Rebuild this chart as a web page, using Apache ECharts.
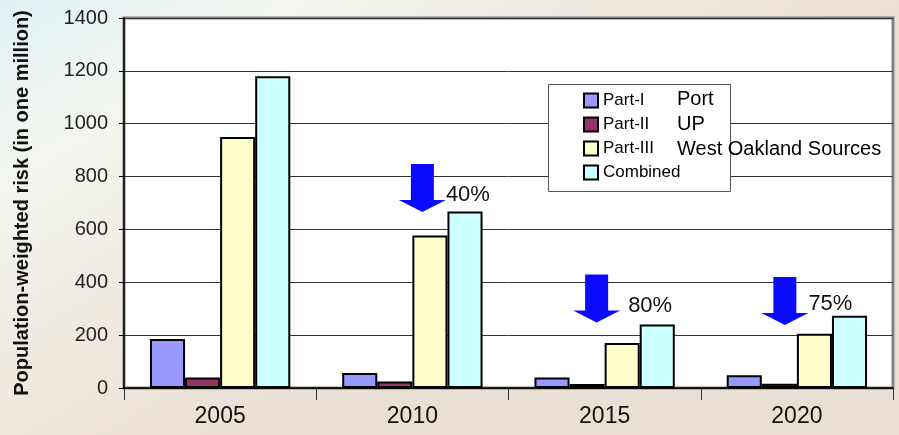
<!DOCTYPE html>
<html>
<head>
<meta charset="utf-8">
<script src="https://cdn.jsdelivr.net/npm/echarts@6/dist/echarts.min.js"></script>
<style>
  html, body { margin: 0; padding: 0; }
  #chart { width: 899px; height: 435px; }
</style>
</head>
<body>
<div id="chart"></div>
<script>
// categories + values
var years = ["2005", "2010", "2015", "2020"];
var partI = [185, 57, 40, 48];
var partII = [40, 25, 15, 16];
var partIII = [950, 577, 170, 205];
var combined = [1180, 668, 240, 273];

// reduction arrows
var arrowYears = ["2010", "2015", "2020"];
var arrowValues = [757, 339, 329];
var arrowLabels = ["40%", "80%", "75%"];

var seriesNames = ["Part-I", "Part-II", "Part-III", "Combined"];
var seriesNotes = ["Port", "UP", "West Oakland Sources"];
var yTicks = [0, 200, 400, 600, 800, 1000, 1200, 1400];

var font = "Liberation Sans, Arial, sans-serif";
var arrowPath = "path://M12,0 L35,0 L35,36 L47,36 L23.5,48 L0,36 L12,36 Z";
// pixel nudges of the arrows / labels relative to category centre
var arrowShift = [[10, 0], [-8, 0], [-12, 0]];
var labelShift = [[0, 7], [8, 8], [0, 3]];

var chart = echarts.init(document.getElementById("chart"));

function barSeries(name, data, color) {
  return {
    name: name,
    type: "bar",
    data: data,
    barGap: "0%",
    barCategoryGap: "27%",
    itemStyle: { color: color, borderColor: "#000", borderWidth: 2 }
  };
}

var arrowData = arrowYears.map(function (y, i) {
  return {
    value: [y, arrowValues[i]],
    symbolOffset: arrowShift[i],
    label: {
      show: true,
      position: "right",
      distance: 0,
      offset: labelShift[i],
      formatter: arrowLabels[i]
    }
  };
});

var noteTexts = seriesNotes.map(function (t, i) {
  return {
    type: "text",
    left: 677,
    top: 89 + i * 25,
    z: 30,
    style: { text: t, font: "20px " + font, fill: "#000" }
  };
});

var option = {
  backgroundColor: {
    type: "linear", x: 0, y: 0, x2: 0.3, y2: 1,
    colorStops: [
      { offset: 0, color: "#e2f1f6" },
      { offset: 0.3, color: "#f3f6ef" },
      { offset: 0.75, color: "#eee5db" },
      { offset: 1, color: "#eadfd4" }
    ]
  },
  animation: false,
  textStyle: { fontFamily: font },
  grid: {
    left: 124, right: 6, top: 18, bottom: 47,
    show: true,
    backgroundColor: "#fff",
    borderColor: "#808080",
    borderWidth: 3
  },
  legend: {
    data: seriesNames,
    orient: "vertical",
    left: 583,
    top: 92,
    padding: 0,
    z: 20,
    icon: "rect",
    itemWidth: 14,
    itemHeight: 14,
    itemGap: 7,
    textStyle: { fontSize: 17, color: "#000", fontFamily: font }
  },
  graphic: [
    {
      type: "rect",
      left: 548,
      top: 84,
      z: 10,
      shape: { width: 182, height: 107 },
      style: { fill: "#fff", stroke: "#555", lineWidth: 1 }
    }
  ].concat(noteTexts),
  xAxis: {
    type: "category",
    data: years,
    axisLine: { lineStyle: { color: "#000", width: 1.5 } },
    axisTick: { show: true, length: 12, interval: 0, lineStyle: { color: "#333" } },
    axisLabel: { fontSize: 23, color: "#111", margin: 17 }
  },
  yAxis: {
    type: "value",
    min: 0,
    max: 1400,
    interval: 200,
    name: "Population-weighted risk (in one million)",
    nameLocation: "middle",
    nameGap: 92,
    nameTextStyle: { fontSize: 20, fontWeight: "bold", color: "#111" },
    axisLine: { show: true, lineStyle: { color: "#000", width: 1.5 } },
    axisTick: { show: true, length: 5, lineStyle: { color: "#000" } },
    axisLabel: {
      fontSize: 20, color: "#222", margin: 16,
      formatter: function (v) { return yTicks.indexOf(v) >= 0 ? String(v) : ""; }
    },
    splitLine: { lineStyle: { color: "#333", width: 1 } }
  },
  series: [
    barSeries(seriesNames[0], partI, "#9999ff"),
    barSeries(seriesNames[1], partII, "#993366"),
    barSeries(seriesNames[2], partIII, "#ffffcc"),
    barSeries(seriesNames[3], combined, "#ccffff"),
    {
      name: "reduction",
      type: "scatter",
      symbol: arrowPath,
      symbolSize: [47, 48],
      z: 5,
      itemStyle: { color: "#0a0aff", opacity: 1 },
      label: { color: "#111", fontSize: 22, fontFamily: font },
      data: arrowData
    }
  ]
};

chart.setOption(option);
</script>
</body>
</html>
